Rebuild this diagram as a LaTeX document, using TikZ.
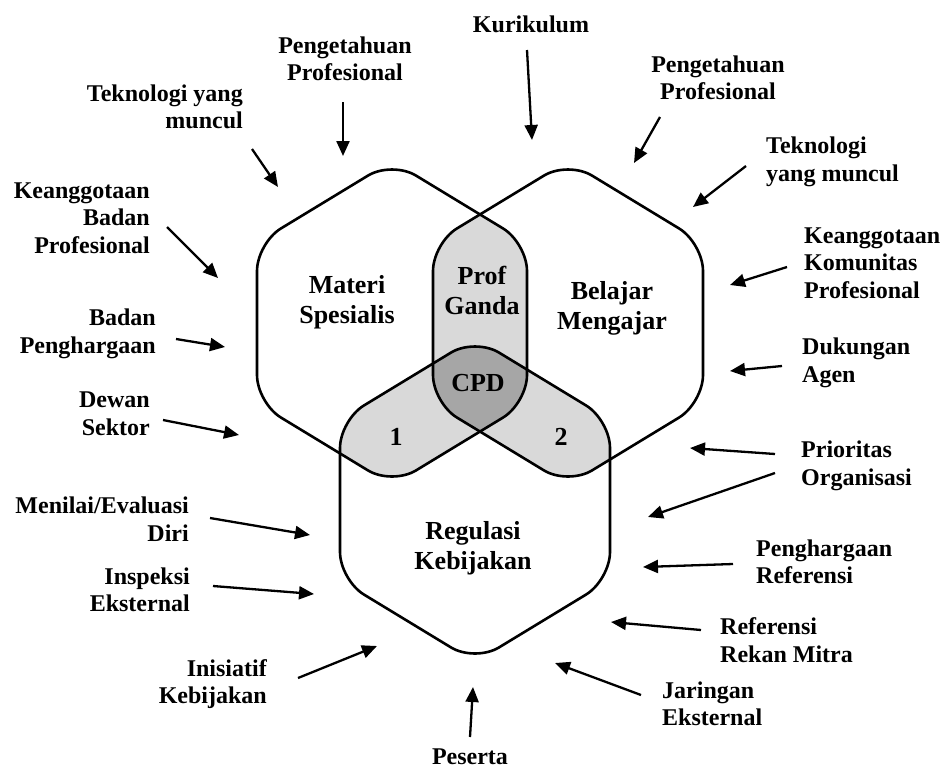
\documentclass[tikz,border=0pt]{standalone}
\usepackage{fontspec}
\setmainfont{Liberation Serif}
\usetikzlibrary{arrows.meta}
\newcommand\hexat[2]{(#1+135,#2) -- (#1+135,#2+80) -- (#1,#2+162) -- (#1-135,#2+80) -- (#1-135,#2-80) -- (#1,#2-162) -- (#1+135,#2-80) -- cycle}
\definecolor{lightg}{HTML}{D9D9D9}
\definecolor{darkg}{HTML}{A6A6A6}
\tikzset{
  outer/.style={font=\fontsize{24}{27.5}\selectfont\bfseries, inner sep=0pt},
  inner/.style={font=\fontsize{26}{30}\selectfont\bfseries, inner sep=0pt, align=center},
  hexline/.style={line width=2.6pt, rounded corners=28pt},
  arr/.style={line width=2.3pt, -{Triangle[length=15pt,width=13pt]}}
}
\begin{document}
\begin{tikzpicture}[x=1pt,y=-1pt]
\useasboundingbox (0,0) rectangle (950,774);
\fill[white] (0,0) rectangle (950,774);
% fills
\begin{scope}[rounded corners=28pt]
\begin{scope}\clip \hexat{392}{323}; \fill[lightg] \hexat{568}{323}; \end{scope}
\begin{scope}\clip \hexat{392}{323}; \fill[lightg] \hexat{475}{500}; \end{scope}
\begin{scope}\clip \hexat{568}{323}; \fill[lightg] \hexat{475}{500}; \end{scope}
\begin{scope}\clip \hexat{392}{323}; \clip \hexat{568}{323}; \fill[darkg] \hexat{475}{500}; \end{scope}
\end{scope}
% outlines
\draw[hexline] \hexat{392}{323};
\draw[hexline] \hexat{568}{323};
\draw[hexline] \hexat{475}{500};
% inner labels
\node[inner] (materi) at (347,302) {Materi\\Spesialis};
\node[inner] (prof) at (482,290) {Prof\\Ganda};
\node[inner] (belajar) at (612,308) {Belajar\\Mengajar};
\node[inner] (cpd) at (478,383) {CPD};
\node[inner] (one) at (396,437) {1};
\node[inner] (two) at (561,437) {2};
\node[inner] (reg) at (473,548) {Regulasi\\Kebijakan};
% outer labels
\node[outer] (kur) at (531,24) {Kurikulum};
\node[outer, align=center] (pp1) at (345,59) {Pengetahuan\\Profesional};
\node[outer, align=right, anchor=east] (tk1) at (243,107) {Teknologi yang\\muncul};
\node[outer, align=right, anchor=east] (kb) at (150,218) {Keanggotaan\\Badan\\Profesional};
\node[outer, align=right, anchor=east] (bp) at (156,334) {Badan\\Penghargaan};
\node[outer, align=right, anchor=east] (ds) at (150,414) {Dewan\\Sektor};
\node[outer, align=right, anchor=east] (me) at (189,519) {Menilai/Evaluasi\\Diri};
\node[outer, align=right, anchor=east] (ie) at (190,590) {Inspeksi\\Eksternal};
\node[outer, align=right, anchor=east] (ik) at (267,684) {Inisiatif\\Kebijakan};
\node[outer] (ps) at (470,757) {Peserta};
\node[outer, align=center] (pp2) at (718,78) {Pengetahuan\\Profesional};
\node[outer, align=left, anchor=west] (tk2) at (766,162) {Teknologi\\yang muncul};
\node[outer, align=left, anchor=west] (kk) at (804,263) {Keanggotaan\\Komunitas\\Profesional};
\node[outer, align=left, anchor=west] (da) at (802,363) {Dukungan\\Agen};
\node[outer, align=left, anchor=west] (po) at (801,466) {Prioritas\\Organisasi};
\node[outer, align=left, anchor=west] (pr) at (756,562) {Penghargaan\\Referensi};
\node[outer, align=left, anchor=west] (rr) at (720,640) {Referensi\\Rekan Mitra};
\node[outer, align=left, anchor=west] (je) at (662,704) {Jaringan\\Eksternal};
% arrow ends
\coordinate (kurS) at (527,50);  \coordinate (kurE) at (532,140);
\coordinate (pp1S) at (343,102); \coordinate (pp1E) at (343,156);
\coordinate (tk1S) at (252,149); \coordinate (tk1E) at (278,187);
\coordinate (kbS) at (167,227);  \coordinate (kbE) at (218,278);
\coordinate (bpS) at (176,339);  \coordinate (bpE) at (225,347);
\coordinate (dsS) at (163,420);  \coordinate (dsE) at (239,435);
\coordinate (meS) at (210,518);  \coordinate (meE) at (310,535);
\coordinate (ieS) at (213,586);  \coordinate (ieE) at (314,594);
\coordinate (ikS) at (298,678);  \coordinate (ikE) at (377,646);
\coordinate (psS) at (470,737);  \coordinate (psE) at (473,687);
\coordinate (pp2S) at (660,117); \coordinate (pp2E) at (634,163);
\coordinate (tk2S) at (746,166); \coordinate (tk2E) at (693,207);
\coordinate (kkS) at (787,267);  \coordinate (kkE) at (730,285);
\coordinate (daS) at (782,366);  \coordinate (daE) at (730,371);
\coordinate (poaS) at (775,454); \coordinate (poaE) at (690,448);
\coordinate (pobS) at (775,473); \coordinate (pobE) at (648,517);
\coordinate (prS) at (733,564);  \coordinate (prE) at (643,567);
\coordinate (rrS) at (701,630);  \coordinate (rrE) at (611,622);
\coordinate (jeS) at (641,695);  \coordinate (jeE) at (555,663);
\foreach \a in {kur,pp1,tk1,kb,bp,ds,me,ie,ik,ps,pp2,tk2,kk,da,poa,pob,pr,rr,je}
  \draw[arr] (\a S) -- (\a E);
\end{tikzpicture}
\end{document}
